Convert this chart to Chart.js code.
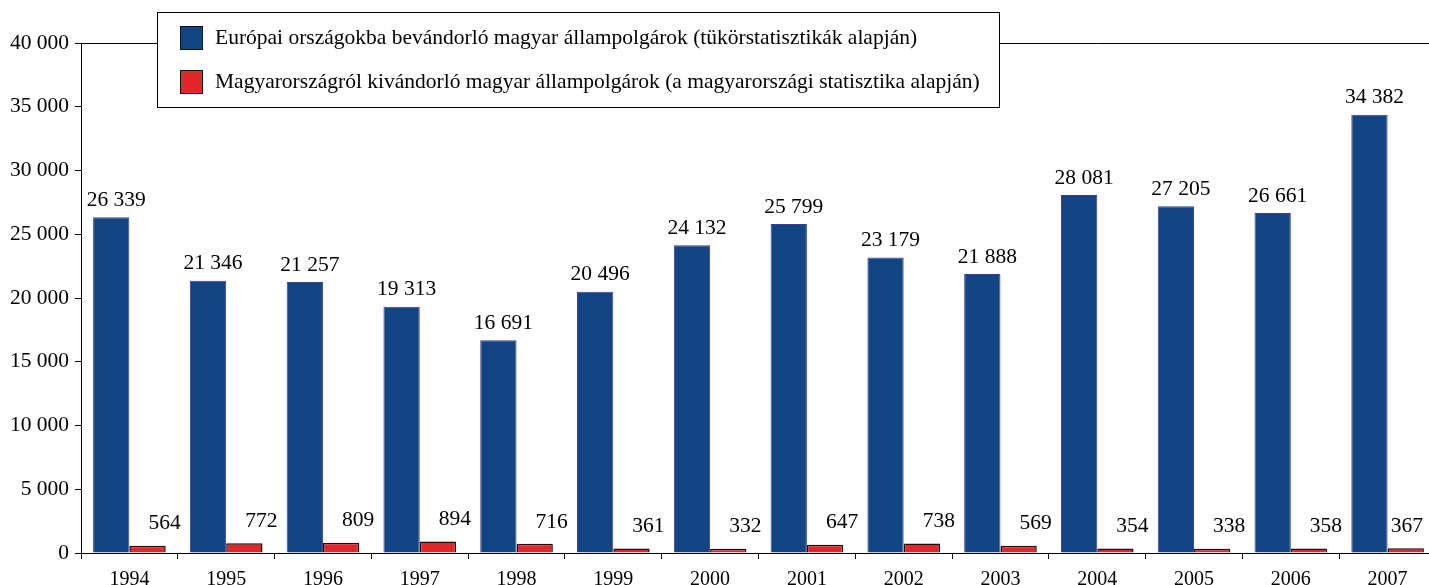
<!DOCTYPE html>
<html>
<head>
<meta charset="utf-8">
<script src="https://cdn.jsdelivr.net/npm/chart.js@4.4.0/dist/chart.umd.min.js"></script>
<style>
    html, body { margin: 0; padding: 0; background: #fff; overflow: hidden; }
    #wrap { width: 1436px; height: 585px; position: relative; }
</style>
</head>
<body>
<div id="wrap"><canvas id="chart"></canvas></div>
<script>
// Adatok
const years = ['1994', '1995', '1996', '1997', '1998', '1999', '2000', '2001', '2002', '2003', '2004', '2005', '2006', '2007'];
const immigrants = [26339, 21346, 21257, 19313, 16691, 20496, 24132, 25799, 23179, 21888, 28081, 27205, 26661, 34382];
const emigrants = [564, 772, 809, 894, 716, 361, 332, 647, 738, 569, 354, 338, 358, 367];
const seriesNames = [
    'Európai országokba bevándorló magyar állampolgárok (tükörstatisztikák alapján)',
    'Magyarországról kivándorló magyar állampolgárok (a magyarországi statisztika alapján)'
];
const yTicks = [0, 5000, 10000, 15000, 20000, 25000, 30000, 35000, 40000];

const FONT = '"Liberation Serif", "Times New Roman", serif';

function fmt(v) {
    return String(v).replace(/\B(?=(\d{3})+(?!\d))/g, ' ');
}

// Értékcímkék az oszlopok felett
const valueLabels = {
    id: 'valueLabels',
    afterDatasetsDraw(chart) {
        const ctx = chart.ctx;
        const maxX = window.innerWidth - 6;
        ctx.save();
        ctx.font = '21.5px ' + FONT;
        ctx.fillStyle = '#000';
        ctx.textAlign = 'center';
        ctx.textBaseline = 'middle';
        chart.data.datasets.forEach((ds, i) => {
            const meta = chart.getDatasetMeta(i);
            const dx = i === 0 ? 5 : 17;
            const dy = i === 0 ? 17 : 22;
            meta.data.forEach((bar, j) => {
                const txt = fmt(ds.data[j]);
                const w = ctx.measureText(txt).width;
                // ha kilógna a képből, beljebb húzzuk
                const x = Math.min(bar.x + dx, maxX - w / 2);
                ctx.fillText(txt, x, bar.y - dy);
            });
        });
        ctx.restore();
    }
};

// Jelmagyarázat doboz a diagramon belül
const boxLegend = {
    id: 'boxLegend',
    afterDraw(chart) {
        const ctx = chart.ctx;
        ctx.save();
        ctx.fillStyle = '#fff';
        ctx.fillRect(157, 12, 842, 95);
        ctx.strokeStyle = '#000';
        ctx.lineWidth = 1;
        ctx.strokeRect(157.5, 12.5, 842, 95);
        ctx.font = '21.5px ' + FONT;
        ctx.textBaseline = 'middle';
        chart.data.datasets.forEach((ds, i) => {
            const y = 38 + i * 44;
            ctx.fillStyle = ds.backgroundColor;
            ctx.fillRect(180, y - 12, 23, 24);
            ctx.strokeStyle = '#111';
            ctx.strokeRect(180.5, y - 11.5, 22, 23);
            ctx.fillStyle = '#000';
            ctx.fillText(ds.label, 215, y);
        });
        ctx.restore();
    }
};

const ctx = document.getElementById('chart').getContext('2d');
const chart = new Chart(ctx, {
    type: 'bar',
    data: {
        labels: years,
        datasets: [{
            label: seriesNames[0],
            data: immigrants,
            backgroundColor: '#134582',
            borderColor: '#3c3c96',
            borderWidth: 1,
            categoryPercentage: 0.75,
            barPercentage: 1.0
        }, {
            label: seriesNames[1],
            data: emigrants,
            backgroundColor: '#e1262c',
            borderColor: '#200a0a',
            borderWidth: 1.5,
            categoryPercentage: 0.75,
            barPercentage: 1.0
        }]
    },
    options: {
        responsive: true,
        maintainAspectRatio: false,
        animation: false,
        layout: { padding: { top: 43, right: 0, left: 0, bottom: 0 } },
        scales: {
            x: {
                grid: {
                    offset: true,
                    drawOnChartArea: false,
                    drawTicks: true,
                    tickLength: 6,
                    color: '#000'
                },
                border: { color: '#000', width: 1 },
                ticks: {
                    color: '#000',
                    font: { family: FONT, size: 20 },
                    padding: 9,
                    maxRotation: 0
                },
                afterFit(scale) { scale.height = 32; }
            },
            y: {
                min: 0,
                max: 40000,
                afterBuildTicks(scale) {
                    scale.ticks = yTicks.map(v => ({ value: v }));
                },
                grid: {
                    color: c => (c.tick && c.tick.value === 40000 ? '#000' : 'rgba(0,0,0,0)'),
                    tickColor: '#000',
                    tickLength: 6
                },
                border: { color: '#000', width: 1 },
                ticks: {
                    color: '#000',
                    font: { family: FONT, size: 21.5 },
                    padding: 6,
                    callback: v => fmt(v)
                },
                afterFit(scale) { scale.width = 81; }
            }
        },
        plugins: {
            legend: { display: false },
            tooltip: { enabled: false }
        }
    },
    plugins: [valueLabels, boxLegend]
});
</script>
</body>
</html>
